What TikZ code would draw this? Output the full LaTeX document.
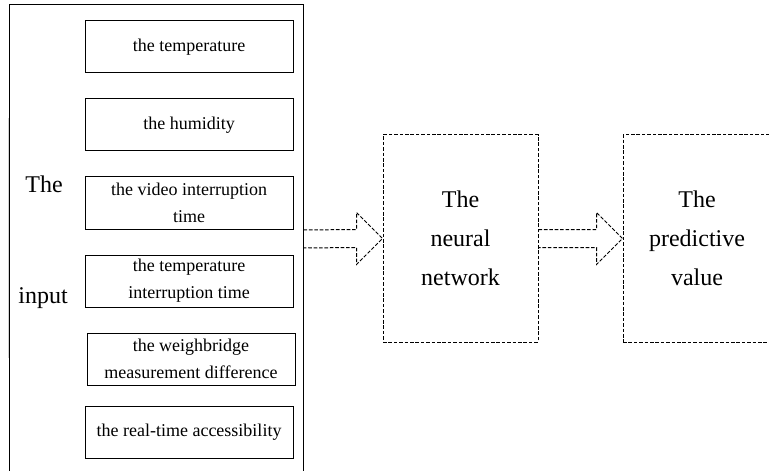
\documentclass[tikz,border=0pt]{standalone}
\usepackage{fontspec}
\setmainfont{Liberation Serif}
\usetikzlibrary{calc}
\newcommand{\hollowarrow}[2]{
  \draw[dash pattern=on 1.8pt off 0.9pt, line width=0.5pt]
    ($(#1)+(0,-9)$) -- ($(#2.west)+(-26,-9)$) -- ++(0,-17) -- (#2.west)
    -- ++(-26,26) -- ++(0,-17) -- ($(#1)+(0,9)$);
}
\tikzset{
  item/.style={draw, line width=0.5pt, minimum width=104pt, minimum height=26pt,
               inner sep=0pt, align=center, font=\fontsize{9}{13.5}\selectfont},
  stage/.style={draw, dash pattern=on 1.8pt off 0.9pt, line width=0.5pt,
                minimum height=103.5pt, inner sep=0pt, align=center,
                font=\fontsize{12}{19.5}\selectfont},
  biglabel/.style={inner sep=0pt, font=\fontsize{12}{19.5}\selectfont}
}

\begin{document}
\begin{tikzpicture}[x=0.5pt, y=-0.5pt]
	\useasboundingbox (0,0) rectangle (769,470);
	\node[draw, line width=0.5pt, minimum width=147pt, minimum height=234pt, inner sep=0pt] (input) at (156,239) {};
	\draw[line width=0.8pt, gray!35] ($(input.north west)+(0,114)$) -- ($(input.north west)+(0,353)$);
	\node[biglabel] (the) at (44,184) {The};
	\node[biglabel] (inp) at (43,298) {input};
	\node[item] (temp) at (189,47) {the temperature};
	\node[item] (hum) at (189,125) {the humidity};
	\node[item] (video) at (189,203) {the video interruption\\time};
	\node[item] (tempint) at (189,281) {the temperature\\interruption time};
	\node[item] (weigh) at (191,359) {the weighbridge\\measurement difference};
	\node[item] (access) at (189,432) {the real-time accessibility};
	\node[stage, minimum width=77.5pt] (nn) at (460.5,238.5) {The\\neural\\network};
	\node[stage, minimum width=74pt] (pv) at (697,238.5) {The\\predictive\\value};
	\hollowarrow{input.east}{nn}
	\hollowarrow{nn.east}{pv}
\end{tikzpicture}
\end{document}
